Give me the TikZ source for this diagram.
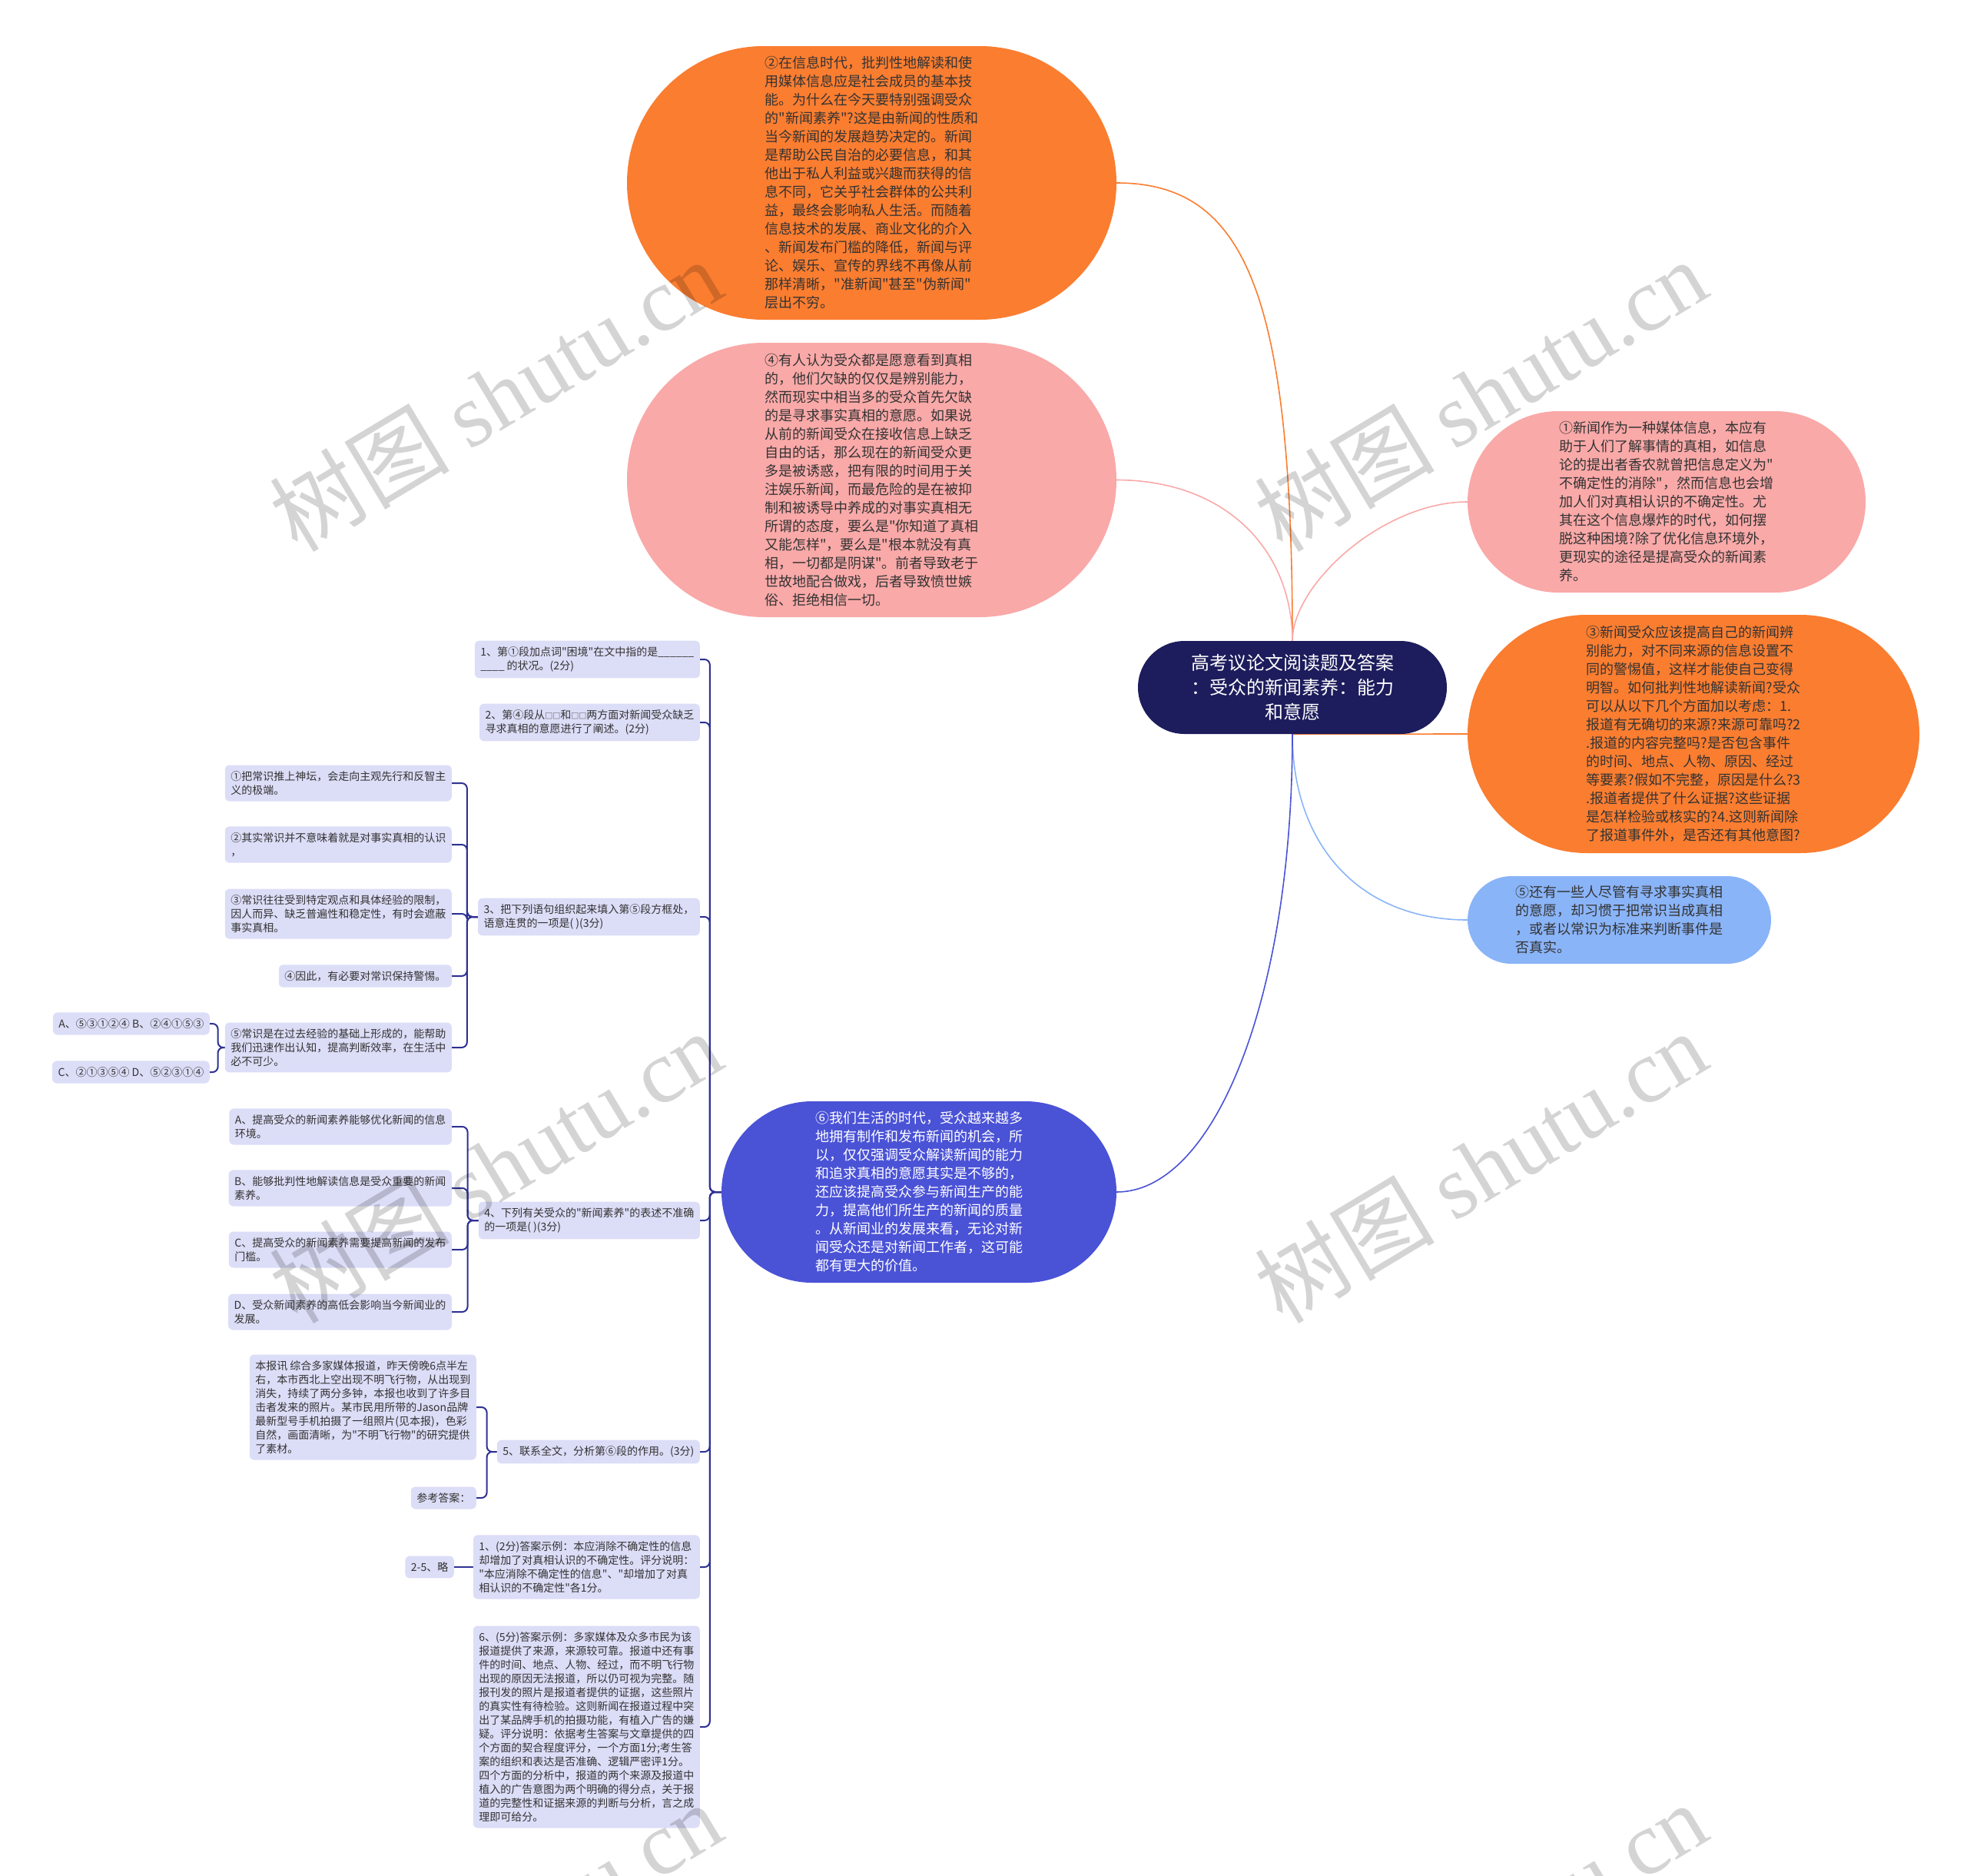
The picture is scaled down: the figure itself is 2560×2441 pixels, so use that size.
\documentclass[tikz,border=0pt]{standalone}
\usepackage{fontspec}
\setmainfont{Noto Sans CJK SC}[Ligatures=TeXOff]
\newfontfamily\stampfont{Liberation Serif}
\usetikzlibrary{shapes.misc}
\definecolor{cOrange}{HTML}{FA7D30}
\definecolor{cPink}{HTML}{F9A9A8}
\definecolor{cSky}{HTML}{8AB4F8}
\definecolor{cIndigo}{HTML}{4A52D6}
\definecolor{cNavy}{HTML}{1D1C5C}
\definecolor{cLeaf}{HTML}{DCDDF7}
\definecolor{cLine}{HTML}{2E3192}
\definecolor{cText}{HTML}{333333}
\pgfdeclarelayer{background}
\pgfsetlayers{background,main}

\begin{document}
\begin{tikzpicture}[x=1pt, y=-1pt,
    every node/.style={align=left, text=cText},
    bubble/.style={rounded rectangle, inner sep=0pt, font=\fontsize{18}{24}\selectfont},
    leaf/.style={fill=cLeaf, rounded corners=6pt, inner xsep=7.5pt, inner ysep=8pt,
                 anchor=east, font=\fontsize{14}{18}\selectfont},
    link/.style={line width=1.6pt},
    branch/.style={line width=2pt, draw=cLine, rounded corners=7pt},
    stamp/.style={rotate=31, text=black, opacity=0.17, align=center,
                  font=\fontsize{117}{117}\selectfont},
]
\useasboundingbox (0,0) rectangle (2560,2441);

% ---- centre ----
\node[rounded rectangle, fill=cNavy, text=white, align=center, inner sep=0pt,
      minimum width=402pt, minimum height=121pt,
      font=\fontsize{24}{32}\selectfont] (root) at (1682,894.5)
      {高考议论文阅读题及答案\\：受众的新闻素养：能力\\和意愿};

% ---- paragraphs ----
\node[bubble, fill=cOrange, minimum width=637pt, minimum height=356pt] (b2) at (1134.5,238)
      {②在信息时代，批判性地解读和使\\用媒体信息应是社会成员的基本技\\能。为什么在今天要特别强调受众\\的"新闻素养"?这是由新闻的性质和\\当今新闻的发展趋势决定的。新闻\\是帮助公民自治的必要信息，和其\\他出于私人利益或兴趣而获得的信\\息不同，它关乎社会群体的公共利\\益，最终会影响私人生活。而随着\\信息技术的发展、商业文化的介入\\、新闻发布门槛的降低，新闻与评\\论、娱乐、宣传的界线不再像从前\\那样清晰，"准新闻"甚至"伪新闻"\\层出不穷。};

\node[bubble, fill=cPink, minimum width=637pt, minimum height=357pt] (b4) at (1134.5,624.5)
      {④有人认为受众都是愿意看到真相\\的，他们欠缺的仅仅是辨别能力，\\然而现实中相当多的受众首先欠缺\\的是寻求事实真相的意愿。如果说\\从前的新闻受众在接收信息上缺乏\\自由的话，那么现在的新闻受众更\\多是被诱惑，把有限的时间用于关\\注娱乐新闻，而最危险的是在被抑\\制和被诱导中养成的对事实真相无\\所谓的态度，要么是"你知道了真相\\又能怎样"，要么是"根本就没有真\\相，一切都是阴谋"。前者导致老于\\世故地配合做戏，后者导致愤世嫉\\俗、拒绝相信一切。};

\node[bubble, fill=cPink, minimum width=518pt, minimum height=236pt] (b1) at (2169,653)
      {①新闻作为一种媒体信息，本应有\\助于人们了解事情的真相，如信息\\论的提出者香农就曾把信息定义为"\\不确定性的消除"，然而信息也会增\\加人们对真相认识的不确定性。尤\\其在这个信息爆炸的时代，如何摆\\脱这种困境?除了优化信息环境外，\\更现实的途径是提高受众的新闻素\\养。};

\node[bubble, fill=cOrange, minimum width=588pt, minimum height=310pt] (b3) at (2204,955)
      {③新闻受众应该提高自己的新闻辨\\别能力，对不同来源的信息设置不\\同的警惕值，这样才能使自己变得\\明智。如何批判性地解读新闻?受众\\可以从以下几个方面加以考虑：1.\\报道有无确切的来源?来源可靠吗?2\\.报道的内容完整吗?是否包含事件\\的时间、地点、人物、原因、经过\\等要素?假如不完整，原因是什么?3\\.报道者提供了什么证据?这些证据\\是怎样检验或核实的?4.这则新闻除\\了报道事件外，是否还有其他意图?};

\node[bubble, fill=cSky, minimum width=395pt, minimum height=114pt] (b5) at (2107.5,1197)
      {⑤还有一些人尽管有寻求事实真相\\的意愿，却习惯于把常识当成真相\\，或者以常识为标准来判断事件是\\否真实。};

\node[bubble, fill=cIndigo, text=white, minimum width=514pt, minimum height=236pt] (b6) at (1196,1551)
      {⑥我们生活的时代，受众越来越多\\地拥有制作和发布新闻的机会，所\\以，仅仅强调受众解读新闻的能力\\和追求真相的意愿其实是不够的，\\还应该提高受众参与新闻生产的能\\力，提高他们所生产的新闻的质量\\。从新闻业的发展来看，无论对新\\闻受众还是对新闻工作者，这可能\\都有更大的价值。};

% ---- questions and answers ----
\node[leaf] (q1) at (911,858)
      {1、第①段加点词"困境"在文中指的是\_\_\_\_\_\_\\\_\_\_\_ 的状况。(2分)};
\node[leaf] (q2) at (911,940)
      {2、第④段从{\fontsize{10}{10}\selectfont □□}和{\fontsize{10}{10}\selectfont □□}两方面对新闻受众缺乏\\寻求真相的意愿进行了阐述。(2分)};
\node[leaf] (q3) at (911,1193)
      {3、把下列语句组织起来填入第⑤段方框处，\\语意连贯的一项是( )(3分)};
\node[leaf] (q4) at (911,1588)
      {4、下列有关受众的"新闻素养"的表述不准确\\的一项是( )(3分)};
\node[leaf] (q5) at (911,1889) {5、联系全文，分析第⑥段的作用。(3分)};
\node[leaf] (ans1) at (911,2039)
      {1、(2分)答案示例：本应消除不确定性的信息\\却增加了对真相认识的不确定性。评分说明：\\"本应消除不确定性的信息"、"却增加了对真\\相认识的不确定性"各1分。};
\node[leaf] (ans6) at (911,2247)
      {6、(5分)答案示例：多家媒体及众多市民为该\\报道提供了来源，来源较可靠。报道中还有事\\件的时间、地点、人物、经过，而不明飞行物\\出现的原因无法报道，所以仍可视为完整。随\\报刊发的照片是报道者提供的证据，这些照片\\的真实性有待检验。这则新闻在报道过程中突\\出了某品牌手机的拍摄功能，有植入广告的嫌\\疑。评分说明：依据考生答案与文章提供的四\\个方面的契合程度评分，一个方面1分;考生答\\案的组织和表达是否准确、逻辑严密评1分。\\四个方面的分析中，报道的两个来源及报道中\\植入的广告意图为两个明确的得分点，关于报\\道的完整性和证据来源的判断与分析，言之成\\理即可给分。};

% ---- sentences of question 3 ----
\node[leaf] (s1) at (588,1019) {①把常识推上神坛，会走向主观先行和反智主\\义的极端。};
\node[leaf] (s2) at (588,1099) {②其实常识并不意味着就是对事实真相的认识\\，};
\node[leaf] (s3) at (588,1189) {③常识往往受到特定观点和具体经验的限制，\\因人而异、缺乏普遍性和稳定性，有时会遮蔽\\事实真相。};
\node[leaf] (s4) at (588,1270) {④因此，有必要对常识保持警惕。};
\node[leaf] (s5) at (588,1363) {⑤常识是在过去经验的基础上形成的，能帮助\\我们迅速作出认知，提高判断效率，在生活中\\必不可少。};
\node[leaf] (oA) at (273,1332) {A、⑤③①②④ B、②④①⑤③};
\node[leaf] (oC) at (273,1395) {C、②①③⑤④ D、⑤②③①④};

% ---- options of question 4 ----
\node[leaf] (cA) at (588,1466) {A、提高受众的新闻素养能够优化新闻的信息\\环境。};
\node[leaf] (cB) at (588,1546) {B、能够批判性地解读信息是受众重要的新闻\\素养。};
\node[leaf] (cC) at (588,1626) {C、提高受众的新闻素养需要提高新闻的发布\\门槛。};
\node[leaf] (cD) at (588,1707) {D、受众新闻素养的高低会影响当今新闻业的\\发展。};

% ---- question 5 ----
\node[leaf] (news) at (620,1831)
      {本报讯 综合多家媒体报道，昨天傍晚6点半左\\右，本市西北上空出现不明飞行物，从出现到\\消失，持续了两分多钟，本报也收到了许多目\\击者发来的照片。某市民用所带的Jason品牌\\最新型号手机拍摄了一组照片(见本报)，色彩\\自然，画面清晰，为"不明飞行物"的研究提供\\了素材。};
\node[leaf] (ref) at (620,1949) {参考答案：};
\node[leaf] (omit) at (591,2039) {2-5、略};

% ---- connectors ----
\begin{pgfonlayer}{background}
\draw[link, draw=cOrange] (root.north) .. controls (1682,380) and (1620,238) .. (b2.east);
\draw[link, draw=cPink] (root.north) .. controls (1682,720) and (1600,625) .. (b4.east);
\draw[link, draw=cPink] (root.north) .. controls (1682,760) and (1800,653) .. (b1.west);
\draw[link, draw=cOrange] (root.south) -- (b3.west);
\draw[link, draw=cSky] (root.south) .. controls (1682,1100) and (1770,1197) .. (b5.west);
\draw[link, draw=cIndigo] (root.south) .. controls (1682,1300) and (1580,1551) .. (b6.east);
\foreach \c in {q1,q2,q3,q4,q5,ans1,ans6}
  \draw[branch] (b6.west) -- ++(-15,0) |- (\c.east);
\foreach \c in {s1,s2,s3,s4,s5}
  \draw[branch] (q3.west) -- ++(-14,0) |- (\c.east);
\foreach \c in {oA,oC}
  \draw[branch] (s5.west) -- ++(-9,0) |- (\c.east);
\foreach \c in {cA,cB,cC,cD}
  \draw[branch] (q4.west) -- ++(-14,0) |- (\c.east);
\foreach \c in {news,ref}
  \draw[branch] (q5.west) -- ++(-13,0) |- (\c.east);
\draw[branch] (ans1.west) -- (omit.east);
\end{pgfonlayer}

% ---- watermark ----
\foreach \wx/\wy [count=\i] in {645/514, 1927/514, 645/1518, 1927/1518, 645/2522, 1927/2522}
  \node[stamp] (wm\i) at (\wx,\wy) {树图 {\stampfont shutu.cn}};

\end{tikzpicture}
\end{document}
